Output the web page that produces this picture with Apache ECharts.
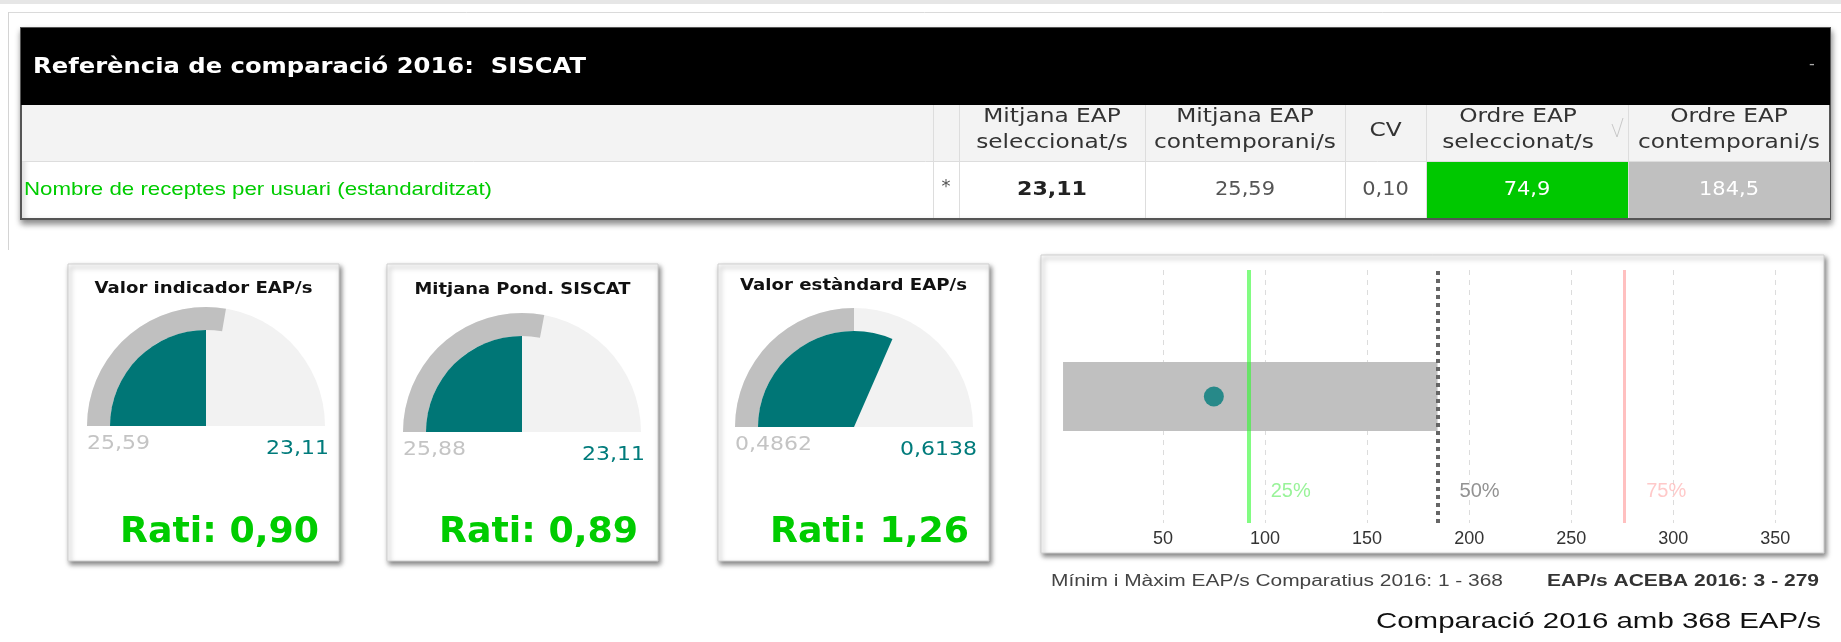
<!DOCTYPE html>
<html>
<head>
<meta charset="utf-8">
<script src="https://cdn.jsdelivr.net/npm/echarts@6/dist/echarts.min.js"></script>
<style>
  html, body { margin: 0; padding: 0; background: #fff; }
  #main { width: 1841px; height: 642px; }
</style>
</head>
<body>
<div id="main"></div>
<script>
// --- taula de referència
const panelTitle = 'Referència de comparació 2016:  SISCAT';
const colHeaders = [
  ['Mitjana EAP', 'seleccionat/s'],
  ['Mitjana EAP', 'contemporani/s'],
  ['CV'],
  ['Ordre EAP', 'seleccionat/s'],
  ['Ordre EAP', 'contemporani/s'],
];
const indicatorName = 'Nombre de receptes per usuari (estandarditzat)';
const rowValues = [23.11, 25.59, 0.10, 74.9, 184.5];
const rowDecimals = [2, 2, 2, 1, 1];

// --- rellotges
const gaugeTitles = ['Valor indicador EAP/s', 'Mitjana Pond. SISCAT', 'Valor estàndard EAP/s'];
const gaugeRef = [25.59, 25.88, 0.4862];
const gaugeValue = [23.11, 23.11, 0.6138];
const gaugeMax = [46.22, 46.22, 0.9724];
const gaugeDecimals = [2, 2, 4];
const ratios = [0.90, 0.89, 1.26];

// --- comparació d'ordre
const eapMin = 1;
const eapMax = 368;
const acebaMin = 3;
const acebaMax = 279;
const orderSelected = 74.9;
const orderContemp = 184.5;
const quartiles = [92, 184.5, 276];
const quartileLabels = ['25%', '50%', '75%'];

// layout
const colX = [933, 959, 1145, 1345, 1426, 1628, 1830];
const cardX = [68, 387, 718];
const gaugeCenters = [[206, 426], [522, 432], [854, 427]];
const titleY = [289, 290, 286];
const TEAL = '#007676';

const fmt = (v, d) => v.toFixed(d).replace('.', ',');

const measureCtx = document.createElement('canvas').getContext('2d');
function fitScale(text, font, width) {
  measureCtx.font = font;
  return width / measureCtx.measureText(text).width;
}
function txt(x, y, text, font, fill, align, scaleX) {
  return {
    type: 'text', x, y, scaleX: scaleX || 1, silent: true,
    style: { text, font, fill, align: align || 'left', textAlign: align || 'left', verticalAlign: 'middle', textVerticalAlign: 'middle' },
  };
}
function rect(x, y, w, h, style) {
  return { type: 'rect', shape: { x, y, width: w, height: h }, style, silent: true };
}
function line(x1, y1, x2, y2, stroke, w) {
  return { type: 'line', shape: { x1, y1, x2, y2 }, style: { stroke, lineWidth: w || 1 }, silent: true };
}

const graphics = [];

// marc de fons
graphics.push(rect(0, 0, 1841, 4, { fill: '#e6e6e6' }));
graphics.push(line(8, 12.5, 1841, 12.5, '#dadada'));
graphics.push(line(8.5, 12, 8.5, 250, '#d4d4d4'));

// taula
graphics.push(rect(21, 28, 1809, 191, {
  fill: '#fff', stroke: '#555', lineWidth: 2,
  shadowBlur: 6, shadowOffsetY: 4, shadowOffsetX: 1, shadowColor: 'rgba(0,0,0,0.45)',
}));
graphics.push(rect(21, 28, 1809, 77, { fill: '#000' }));
graphics.push(rect(22, 105, 1807, 56, { fill: '#f3f3f3' }));
graphics.push(line(22, 161.5, 1829, 161.5, '#dddddd'));
colX.slice(0, 6).forEach((x) => graphics.push(line(x + 0.5, 105, x + 0.5, 218, '#dddddd')));
graphics.push(rect(colX[4] + 1, 162, colX[5] - colX[4] - 1, 56, { fill: '#00c800' }));
graphics.push(rect(colX[5] + 1, 162, colX[6] - colX[5] - 1, 56, { fill: '#c0c0c0' }));

const titleFont = 'bold 22px "DejaVu Sans"';
graphics.push(txt(33, 67, panelTitle, titleFont, '#fff', 'left', fitScale(panelTitle, titleFont, 553)));
graphics.push(txt(1812, 65, '-', '16px "DejaVu Sans"', '#aaa', 'center'));

const headFont = '20px "DejaVu Sans"';
const headScale = fitScale('contemporani/s', headFont, 182);
colHeaders.forEach((lines, i) => {
  let cx = (colX[i + 1] + colX[i + 2]) / 2;
  if (i === 3) cx -= 9;
  if (lines.length === 1) {
    graphics.push(txt(cx, 131, lines[0], headFont, '#333', 'center', headScale));
  } else {
    graphics.push(txt(cx, 117, lines[0], headFont, '#333', 'center', headScale));
    graphics.push(txt(cx, 143, lines[1], headFont, '#333', 'center', headScale));
  }
});
graphics.push({
  type: 'polyline', silent: true,
  shape: { points: [[1612, 124], [1617, 137], [1623, 118]] },
  style: { stroke: '#c8c8c8', lineWidth: 1, fill: null },
});

const rowFont = '19px "Liberation Sans"';
graphics.push(txt(24, 190, indicatorName, rowFont, '#00cc00', 'left', fitScale(indicatorName, rowFont, 468)));
graphics.push(txt((colX[0] + colX[1]) / 2, 187, '*', '18px "DejaVu Sans"', '#555', 'center'));
const valFont = '20px "DejaVu Sans"';
const valScale = fitScale('25,59', valFont, 60);
rowValues.forEach((v, i) => {
  const cx = (colX[i + 1] + colX[i + 2]) / 2;
  const s = fmt(v, rowDecimals[i]);
  const bold = i === 0;
  const font = bold ? 'bold 20px "DejaVu Sans"' : valFont;
  const fill = i >= 3 ? '#fff' : (bold ? '#222' : '#555');
  graphics.push(txt(cx, 190, s, font, fill, 'center', bold ? fitScale(s, font, 70) : valScale));
});

// targetes dels rellotges
const cardTitleFont = 'bold 16px "DejaVu Sans"';
const labFont = '19px "DejaVu Sans"';
const labScale = fitScale('0,6138', labFont, 77);
const ratiFont = 'bold 35px "DejaVu Sans"';
const ratiScale = fitScale('Rati: 0,90', ratiFont, 199);
const titleWidths = [218, 216, 227];
gaugeTitles.forEach((t, i) => {
  const x = cardX[i];
  const [cx, cy] = gaugeCenters[i];
  graphics.push(rect(x, 264, 271, 297, {
    fill: '#fff', stroke: '#cfcfcf', lineWidth: 1,
    shadowBlur: 5, shadowOffsetX: 2, shadowOffsetY: 3, shadowColor: 'rgba(0,0,0,0.5)',
  }));
  graphics.push(txt(x + 135.5, titleY[i], t, cardTitleFont, '#111', 'center', fitScale(t, cardTitleFont, titleWidths[i])));
  graphics.push(txt(cx - 119, cy + 18, fmt(gaugeRef[i], gaugeDecimals[i]), labFont, '#c4c4c4', 'left', labScale));
  graphics.push(txt(cx + 123, cy + 23, fmt(gaugeValue[i], gaugeDecimals[i]), labFont, '#007b7b', 'right', labScale));
  graphics.push(txt(x + 251, 533, 'Rati: ' + fmt(ratios[i], 2), ratiFont, '#00cc00', 'right', ratiScale));
});

// targeta de comparació
graphics.push(rect(1041, 255, 783, 298, {
  fill: '#fff', stroke: '#cfcfcf', lineWidth: 1,
  shadowBlur: 5, shadowOffsetX: 2, shadowOffsetY: 3, shadowColor: 'rgba(0,0,0,0.5)',
}));
const minMaxText = 'Mínim i Màxim EAP/s Comparatius 2016: ' + eapMin + ' - ' + eapMax;
const minMaxFont = '16px "Liberation Sans"';
graphics.push(txt(1051, 582, minMaxText, minMaxFont, '#444', 'left', fitScale(minMaxText, minMaxFont, 452)));
const acebaText = 'EAP/s ACEBA 2016: ' + acebaMin + ' - ' + acebaMax;
const acebaFont = 'bold 16px "Liberation Sans"';
graphics.push(txt(1819, 582, acebaText, acebaFont, '#333', 'right', fitScale(acebaText, acebaFont, 272)));
const compText = 'Comparació 2016 amb ' + eapMax + ' EAP/s';
const compFont = '22px "Liberation Sans"';
graphics.push(txt(1821, 622, compText, compFont, '#111', 'right', fitScale(compText, compFont, 445)));

// radius: radi exterior, width: gruix de la banda (igual al radi = sector ple)
function gaugeLayer(i, value, radius, width, color, z, bg) {
  return {
    type: 'gauge',
    center: gaugeCenters[i],
    radius: radius,
    startAngle: 180,
    endAngle: 0,
    min: 0,
    max: gaugeMax[i],
    z: z,
    silent: true,
    axisLine: { show: !!bg, lineStyle: { width: radius, color: [[1, bg || 'rgba(0,0,0,0)']] } },
    progress: { show: true, width: width, roundCap: false, itemStyle: { color: color } },
    pointer: { show: false },
    anchor: { show: false },
    axisTick: { show: false },
    splitLine: { show: false },
    axisLabel: { show: false },
    title: { show: false },
    detail: { show: false },
    data: [{ value: value }],
  };
}

const gaugeSeries = [];
gaugeTitles.forEach((t, i) => {
  gaugeSeries.push(gaugeLayer(i, gaugeRef[i], 119, 23, '#c0c0c0', 3, '#f2f2f2'));
  gaugeSeries.push(gaugeLayer(i, gaugeValue[i], 96, 96, TEAL, 4));
});

const quartileStyles = [
  { color: 'rgba(40,250,40,0.58)', width: 4, type: 'solid' },
  { color: '#666', width: 4, type: [4, 4] },
  { color: 'rgba(255,140,140,0.55)', width: 3, type: 'solid' },
];
const quartileLabelColors = ['#80f080', '#777', '#ffbcbc'];

const chart = echarts.init(document.getElementById('main'));
chart.setOption({
  animation: false,
  graphic: { elements: graphics },
  grid: { left: 1061, top: 270, right: 29, bottom: 119, outerBoundsMode: 'none', containLabel: false },
  xAxis: {
    type: 'value',
    min: 0,
    max: eapMax,
    interval: 50,
    axisLine: { show: false },
    axisTick: { show: false },
    axisLabel: {
      color: '#333', fontSize: 18, fontFamily: 'Liberation Sans', margin: 7,
      showMinLabel: false, showMaxLabel: false,
    },
    splitLine: {
      show: true, showMinLine: false, showMaxLine: false,
      lineStyle: { type: [5, 5], color: '#dcdcdc', width: 1 },
    },
  },
  yAxis: [
    { type: 'category', data: ['EAP'], show: false },
    { type: 'value', min: 0, max: 1, show: false },
  ],
  series: [
    {
      type: 'bar', stack: 'rang', data: [eapMin], barWidth: 69, silent: true,
      itemStyle: { color: 'rgba(0,0,0,0)' },
    },
    {
      type: 'bar', stack: 'rang', data: [orderContemp - eapMin], barWidth: 69, silent: true,
      itemStyle: { color: '#c0c0c0' },
      markLine: {
        silent: true,
        symbol: ['none', 'none'],
        label: { show: false },
        z: 6,
        data: quartiles.map((q, i) => ({ xAxis: q, lineStyle: quartileStyles[i] })),
      },
    },
    {
      type: 'scatter', data: [[orderSelected, 0]], symbol: 'circle', symbolSize: 20, z: 7, silent: true,
      itemStyle: { color: '#007b7b' },
    },
    {
      type: 'scatter', yAxisIndex: 1, symbolSize: 0, silent: true,
      data: quartiles.map((q, i) => ({
        value: [q, 0.126],
        label: { color: quartileLabelColors[i] },
      })),
      label: {
        show: true, position: 'right', distance: 22,
        fontSize: 20, fontFamily: 'Liberation Sans',
        formatter: (p) => quartileLabels[p.dataIndex],
      },
    },
  ].concat(gaugeSeries),
});
</script>
</body>
</html>
